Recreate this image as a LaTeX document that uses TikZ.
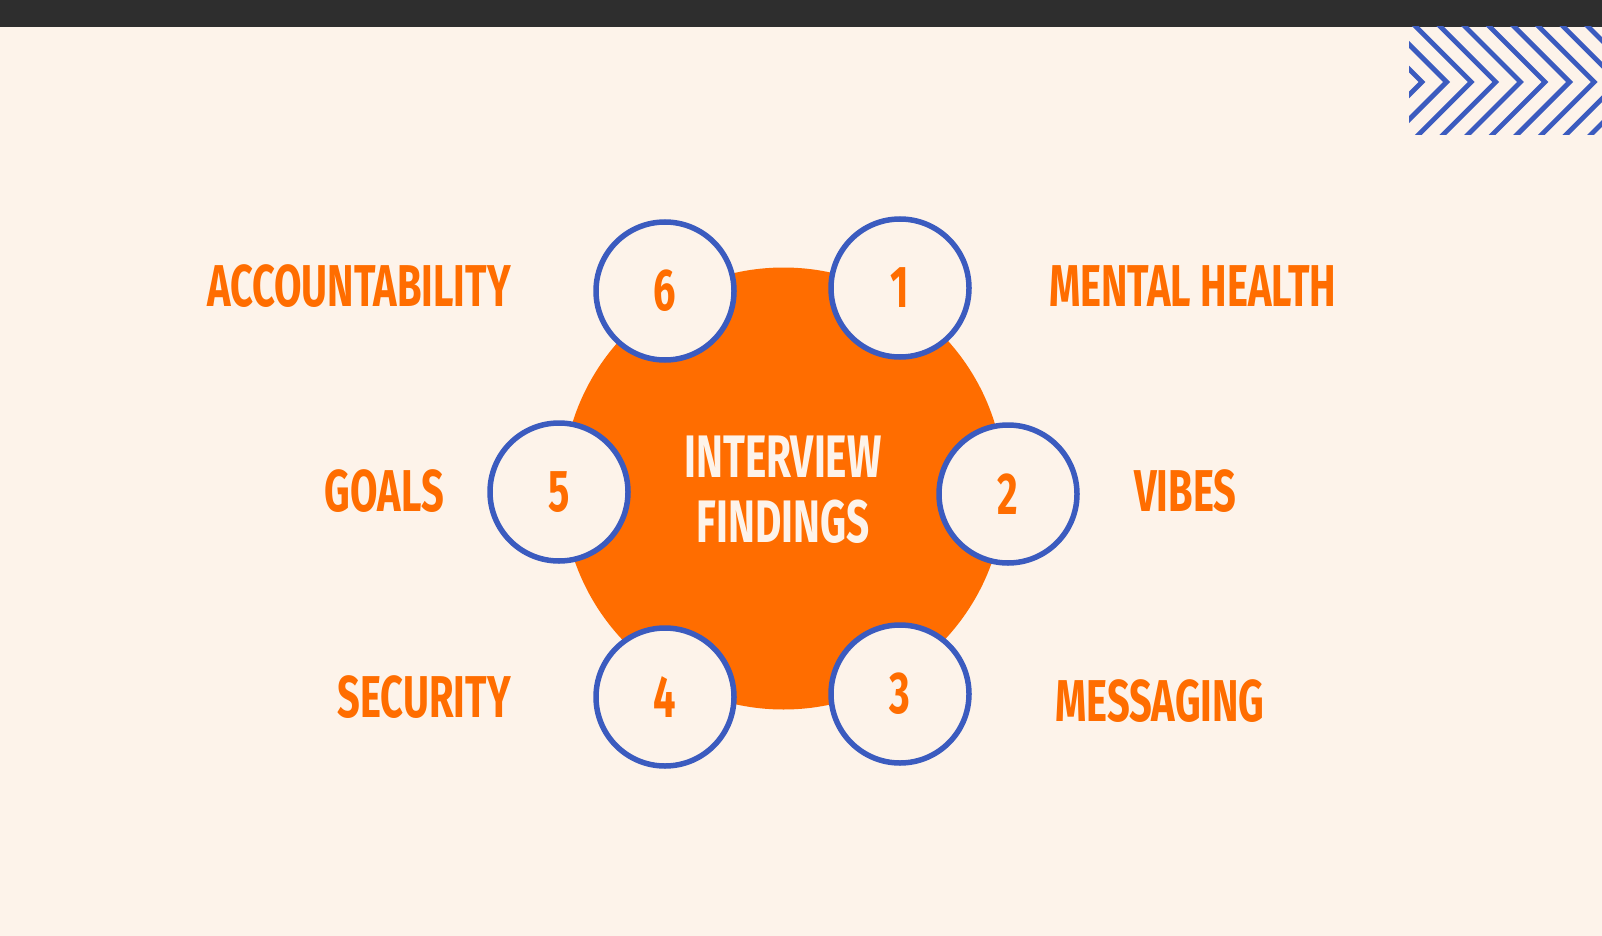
\documentclass[tikz,border=0pt]{standalone}
\usepackage{fontspec}
\newfontfamily\headfont[FakeStretch=0.675]{Fira Sans}
\usepackage{tikz}
\definecolor{bgcream}{HTML}{FDF3EA}
\definecolor{findorange}{HTML}{FF6D00}
\definecolor{ringblue}{HTML}{3B5BBF}
\definecolor{topbar}{HTML}{2E2E2E}

\begin{document}
\begin{tikzpicture}[
  x=1pt, y=-1pt,
  font=\headfont\bfseries\fontsize{59}{65}\selectfont,
  ring/.style={circle, draw=ringblue, line width=5.5pt, fill=bgcream, minimum size=138pt, inner sep=0pt, text=findorange},
  topic/.style={text=findorange, inner sep=0pt},
  hub/.style={circle, fill=findorange, minimum size=442pt, inner sep=0pt},
  chev/.style={draw=ringblue, line width=4.8pt}
]
\useasboundingbox (0,0) rectangle (1602,936);
\fill[bgcream] (0,0) rectangle (1602,936);
\fill[topbar] (0,0) rectangle (1602,27);
% chevrons, top right
\begin{scope}
  \clip (1409,27) rectangle (1602,135);
  \foreach \ax in {1422,1446.6,...,1680}
    \draw[chev] (\ax-60,22) -- (\ax,82) -- (\ax-60,142);
\end{scope}
% hub and rings
\node[hub] (hub) at (783.5,488.5) {};
\node[text=bgcream, align=center, inner sep=0pt, font=\headfont\bfseries\fontsize{60}{65}\selectfont] (title) at (783,490) {INTERVIEW\\FINDINGS};
\node[ring] (r1) at (900,288) {1};
\node[ring] (r2) at (1008,494) {2};
\node[ring] (r3) at (900,694) {3};
\node[ring] (r4) at (665,697) {4};
\node[ring] (r5) at (559,492) {5};
\node[ring] (r6) at (665,291) {6};
% topics
\node[topic, anchor=west] (t1) at (1049,286) {MENTAL HEALTH};
\node[topic, anchor=west] (t2) at (1134,491) {VIBES};
\node[topic, anchor=west] (t3) at (1055,701) {MESSAGING};
\node[topic, anchor=east] (t4) at (511,697) {SECURITY};
\node[topic, anchor=east] (t5) at (444,491) {GOALS};
\node[topic, anchor=east] (t6) at (511,286) {ACCOUNTABILITY};
\end{tikzpicture}
\end{document}
